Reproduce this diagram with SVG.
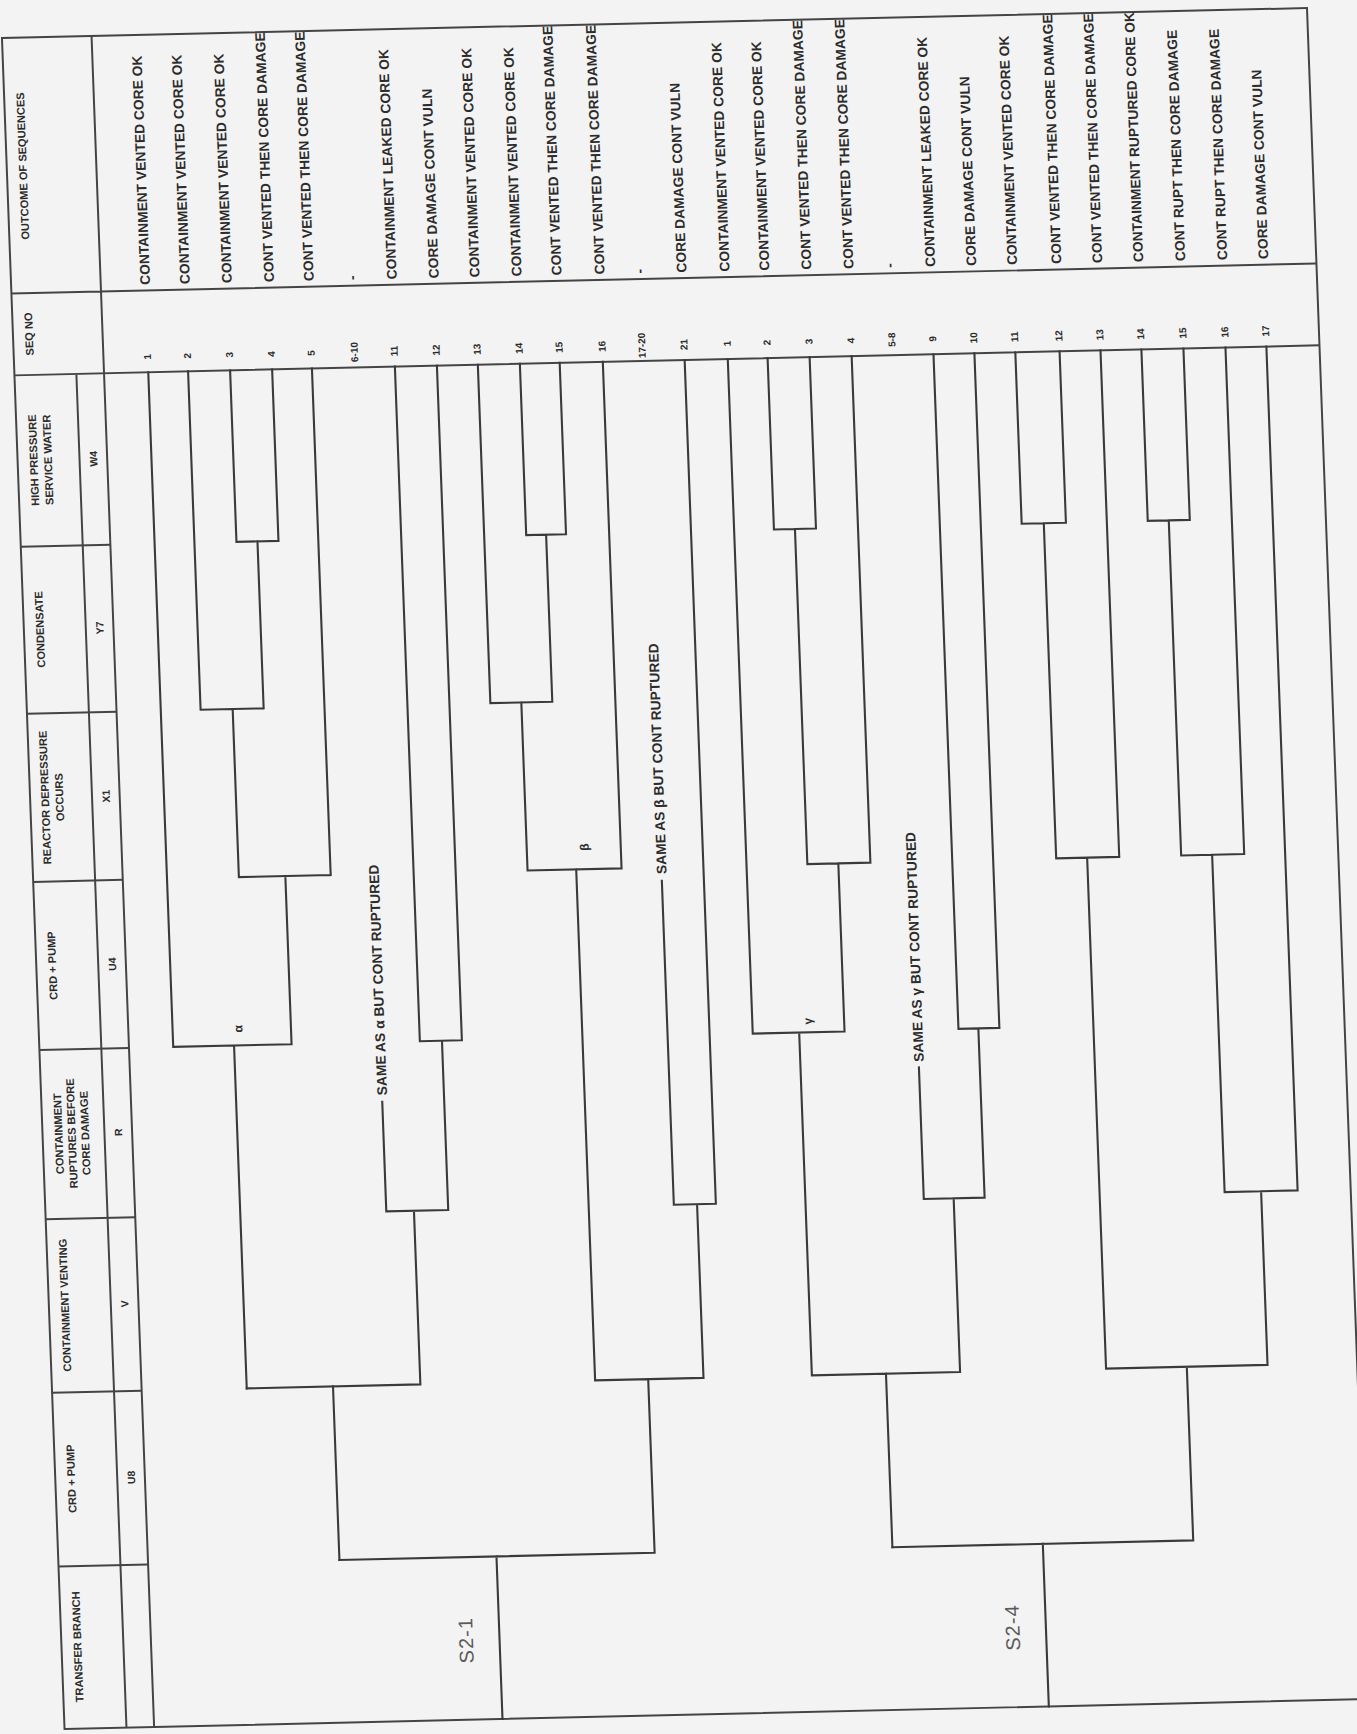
<svg xmlns="http://www.w3.org/2000/svg" width="1357" height="1734" viewBox="0 0 1357 1734">
<style>
.ln{stroke:#3a3a3a;stroke-width:1.9;fill:none;stroke-linecap:square}
.fr{stroke:#444;stroke-width:1.8;fill:none}
.t{font-family:"Liberation Sans",Arial,sans-serif;font-weight:bold;fill:#2c2c2c}
.oc{font-size:12.5px}
.nm{font-size:9px;text-anchor:middle}
.mk{font-size:11px;text-anchor:middle}
.hd{font-size:10px;text-anchor:middle}
.sb{font-size:9.5px;text-anchor:middle}
.lb{font-family:"Liberation Sans",Arial,sans-serif;font-size:18px;letter-spacing:1px;fill:#5a5a5a;text-anchor:middle}
</style>
<rect width="1357" height="1734" fill="#f3f3f3"/>
<g transform="scale(1.10595) matrix(1 -0.023 0.037 1 -29.0 14.1)">
<g id="frame">
<path class="fr" d="M30 21H1210V1550H30Z"/>
<path class="fr" d="M111 21V1550M86 326V1550M30 252H1210M30 326H1210"/>
<path class="fr" d="M30 481H111M30 632H111M30 784H111M30 936H111M30 1089H111M30 1246H111M30 1403H111"/>
</g>
<g id="header" class="t">
<text class="hd" transform="translate(48 137) rotate(-90)">OUTCOME OF SEQUENCES</text>
<text class="hd" transform="translate(48 289) rotate(-90)">SEQ NO</text>
<text class="hd" transform="translate(48 403) rotate(-90)">HIGH PRESSURE</text>
<text class="hd" transform="translate(61 403) rotate(-90)">SERVICE WATER</text>
<text class="sb" transform="translate(102 403) rotate(-90)">W4</text>
<text class="hd" transform="translate(48 556) rotate(-90)">CONDENSATE</text>
<text class="sb" transform="translate(102 556) rotate(-90)">Y7</text>
<text class="hd" transform="translate(47 708) rotate(-90)">REACTOR DEPRESSURE</text>
<text class="hd" transform="translate(60 708) rotate(-90)">OCCURS</text>
<text class="sb" transform="translate(102 708) rotate(-90)">X1</text>
<text class="hd" transform="translate(48 860) rotate(-90)">CRD + PUMP</text>
<text class="sb" transform="translate(102 860) rotate(-90)">U4</text>
<text class="hd" transform="translate(48 1012) rotate(-90)">CONTAINMENT</text>
<text class="hd" transform="translate(60 1012) rotate(-90)">RUPTURES BEFORE</text>
<text class="hd" transform="translate(72 1012) rotate(-90)">CORE DAMAGE</text>
<text class="sb" transform="translate(102 1012) rotate(-90)">R</text>
<text class="hd" transform="translate(48 1167) rotate(-90)">CONTAINMENT VENTING</text>
<text class="sb" transform="translate(102 1167) rotate(-90)">V</text>
<text class="hd" transform="translate(48 1324) rotate(-90)">CRD + PUMP</text>
<text class="sb" transform="translate(102 1324) rotate(-90)">U8</text>
<text class="hd" transform="translate(48 1476) rotate(-90)">TRANSFER BRANCH</text>
</g>
<g id="connectors" class="ln">
<path d="M151 326V936M187 326V632M225 326V481M263 326V481M299 326V784M225 481H263M244 481V632M187 632H244M216 632V784M216 784H299M258 784V936M151 936H258M206 936V1246"/>
<path d="M206 1246H363M284 1246V1403M338 990V1089M374 326V936M412 326V936M374 936H412M394 936V1089M338 1089H394M363 1089V1246"/>
<path d="M449 326V632M487 326V481M523 326V481M487 481H523M505 481V632M449 632H505M477 632V784M562 326V784M477 784H562M521 784V1246M598 796V1089M636 326V1089M598 1089H636M619 1089V1246M521 1246H619M569 1246V1403M284 1403H569M426 1403V1550"/>
<path d="M675 326V936M711 326V481M749 326V481M711 481H749M730 481V784M787 326V784M730 784H787M758 784V936M675 936H758M717 936V1246M824 970V1089M861 326V936M898 326V936M861 936H898M879 936V1089M824 1089H879M851 1089V1246M717 1246H851M784 1246V1403"/>
<path d="M935 326V481M975 326V481M935 481H975M955 481V784M1012 326V784M955 784H1012M983 784V1246M1049 326V481M1087 326V481M1049 481H1087M1068 481V784M1125 326V784M1068 784H1125M1096 784V1089M1162 326V1089M1096 1089H1162M1129 1089V1246M983 1246H1129M1056 1246V1403M784 1403H1056M920 1403V1550"/>
</g>
<g id="labels" class="t">
<text class="oc" transform="translate(342.5 984) rotate(-90)">SAME AS α BUT CONT RUPTURED</text>
<text class="oc" transform="translate(602.5 790) rotate(-90)">SAME AS β BUT CONT RUPTURED</text>
<text class="oc" transform="translate(828.5 965) rotate(-90)">SAME AS γ BUT CONT RUPTURED</text>
<text class="mk" transform="translate(214 921) rotate(-90)">α</text>
<text class="mk" transform="translate(533 764) rotate(-90)">β</text>
<text class="mk" transform="translate(729 926) rotate(-90)">γ</text>
</g>
<g id="S2-1">
<text class="lb" transform="translate(402 1478) rotate(-90)">S2-1</text>
</g>
<g id="S2-4">
<text class="lb" transform="translate(896 1478) rotate(-90)">S2-4</text>
</g>
<g id="seqnos" class="t">
<text class="nm" transform="translate(154 312) rotate(-90)">1</text>
<text class="nm" transform="translate(190 312) rotate(-90)">2</text>
<text class="nm" transform="translate(228 312) rotate(-90)">3</text>
<text class="nm" transform="translate(266 312) rotate(-90)">4</text>
<text class="nm" transform="translate(302 312) rotate(-90)">5</text>
<text class="nm" transform="translate(341 312) rotate(-90)">6-10</text>
<text class="nm" transform="translate(377 312) rotate(-90)">11</text>
<text class="nm" transform="translate(415 312) rotate(-90)">12</text>
<text class="nm" transform="translate(452 312) rotate(-90)">13</text>
<text class="nm" transform="translate(490 312) rotate(-90)">14</text>
<text class="nm" transform="translate(526 312) rotate(-90)">15</text>
<text class="nm" transform="translate(565 312) rotate(-90)">16</text>
<text class="nm" transform="translate(601 312) rotate(-90)">17-20</text>
<text class="nm" transform="translate(639 312) rotate(-90)">21</text>
<text class="nm" transform="translate(678 312) rotate(-90)">1</text>
<text class="nm" transform="translate(714 312) rotate(-90)">2</text>
<text class="nm" transform="translate(752 312) rotate(-90)">3</text>
<text class="nm" transform="translate(790 312) rotate(-90)">4</text>
<text class="nm" transform="translate(827 312) rotate(-90)">5-8</text>
<text class="nm" transform="translate(864 312) rotate(-90)">9</text>
<text class="nm" transform="translate(901 312) rotate(-90)">10</text>
<text class="nm" transform="translate(938 312) rotate(-90)">11</text>
<text class="nm" transform="translate(978 312) rotate(-90)">12</text>
<text class="nm" transform="translate(1015 312) rotate(-90)">13</text>
<text class="nm" transform="translate(1052 312) rotate(-90)">14</text>
<text class="nm" transform="translate(1090 312) rotate(-90)">15</text>
<text class="nm" transform="translate(1128 312) rotate(-90)">16</text>
<text class="nm" transform="translate(1165 312) rotate(-90)">17</text>
</g>
<g id="outcomes" class="t oc">
<text transform="translate(155.5 247) rotate(-90)">CONTAINMENT VENTED CORE OK</text>
<text transform="translate(191.5 247) rotate(-90)">CONTAINMENT VENTED CORE OK</text>
<text transform="translate(229.5 247) rotate(-90)">CONTAINMENT VENTED CORE OK</text>
<text transform="translate(267.5 247) rotate(-90)">CONT VENTED THEN CORE DAMAGE</text>
<text transform="translate(303.5 247) rotate(-90)">CONT VENTED THEN CORE DAMAGE</text>
<text transform="translate(342.5 247) rotate(-90)">-</text>
<text transform="translate(378.5 247) rotate(-90)">CONTAINMENT LEAKED CORE OK</text>
<text transform="translate(416.5 247) rotate(-90)">CORE DAMAGE CONT VULN</text>
<text transform="translate(453.5 247) rotate(-90)">CONTAINMENT VENTED CORE OK</text>
<text transform="translate(491.5 247) rotate(-90)">CONTAINMENT VENTED CORE OK</text>
<text transform="translate(527.5 247) rotate(-90)">CONT VENTED THEN CORE DAMAGE</text>
<text transform="translate(566.5 247) rotate(-90)">CONT VENTED THEN CORE DAMAGE</text>
<text transform="translate(602.5 247) rotate(-90)">-</text>
<text transform="translate(640.5 247) rotate(-90)">CORE DAMAGE CONT VULN</text>
<text transform="translate(679.5 247) rotate(-90)">CONTAINMENT VENTED CORE OK</text>
<text transform="translate(715.5 247) rotate(-90)">CONTAINMENT VENTED CORE OK</text>
<text transform="translate(753.5 247) rotate(-90)">CONT VENTED THEN CORE DAMAGE</text>
<text transform="translate(791.5 247) rotate(-90)">CONT VENTED THEN CORE DAMAGE</text>
<text transform="translate(828.5 247) rotate(-90)">-</text>
<text transform="translate(865.5 247) rotate(-90)">CONTAINMENT LEAKED CORE OK</text>
<text transform="translate(902.5 247) rotate(-90)">CORE DAMAGE CONT VULN</text>
<text transform="translate(939.5 247) rotate(-90)">CONTAINMENT VENTED CORE OK</text>
<text transform="translate(979.5 247) rotate(-90)">CONT VENTED THEN CORE DAMAGE</text>
<text transform="translate(1016.5 247) rotate(-90)">CONT VENTED THEN CORE DAMAGE</text>
<text transform="translate(1053.5 247) rotate(-90)">CONTAINMENT RUPTURED CORE OK</text>
<text transform="translate(1091.5 247) rotate(-90)">CONT RUPT THEN CORE DAMAGE</text>
<text transform="translate(1129.5 247) rotate(-90)">CONT RUPT THEN CORE DAMAGE</text>
<text transform="translate(1166.5 247) rotate(-90)">CORE DAMAGE CONT VULN</text>
</g>
</g>
</svg>
